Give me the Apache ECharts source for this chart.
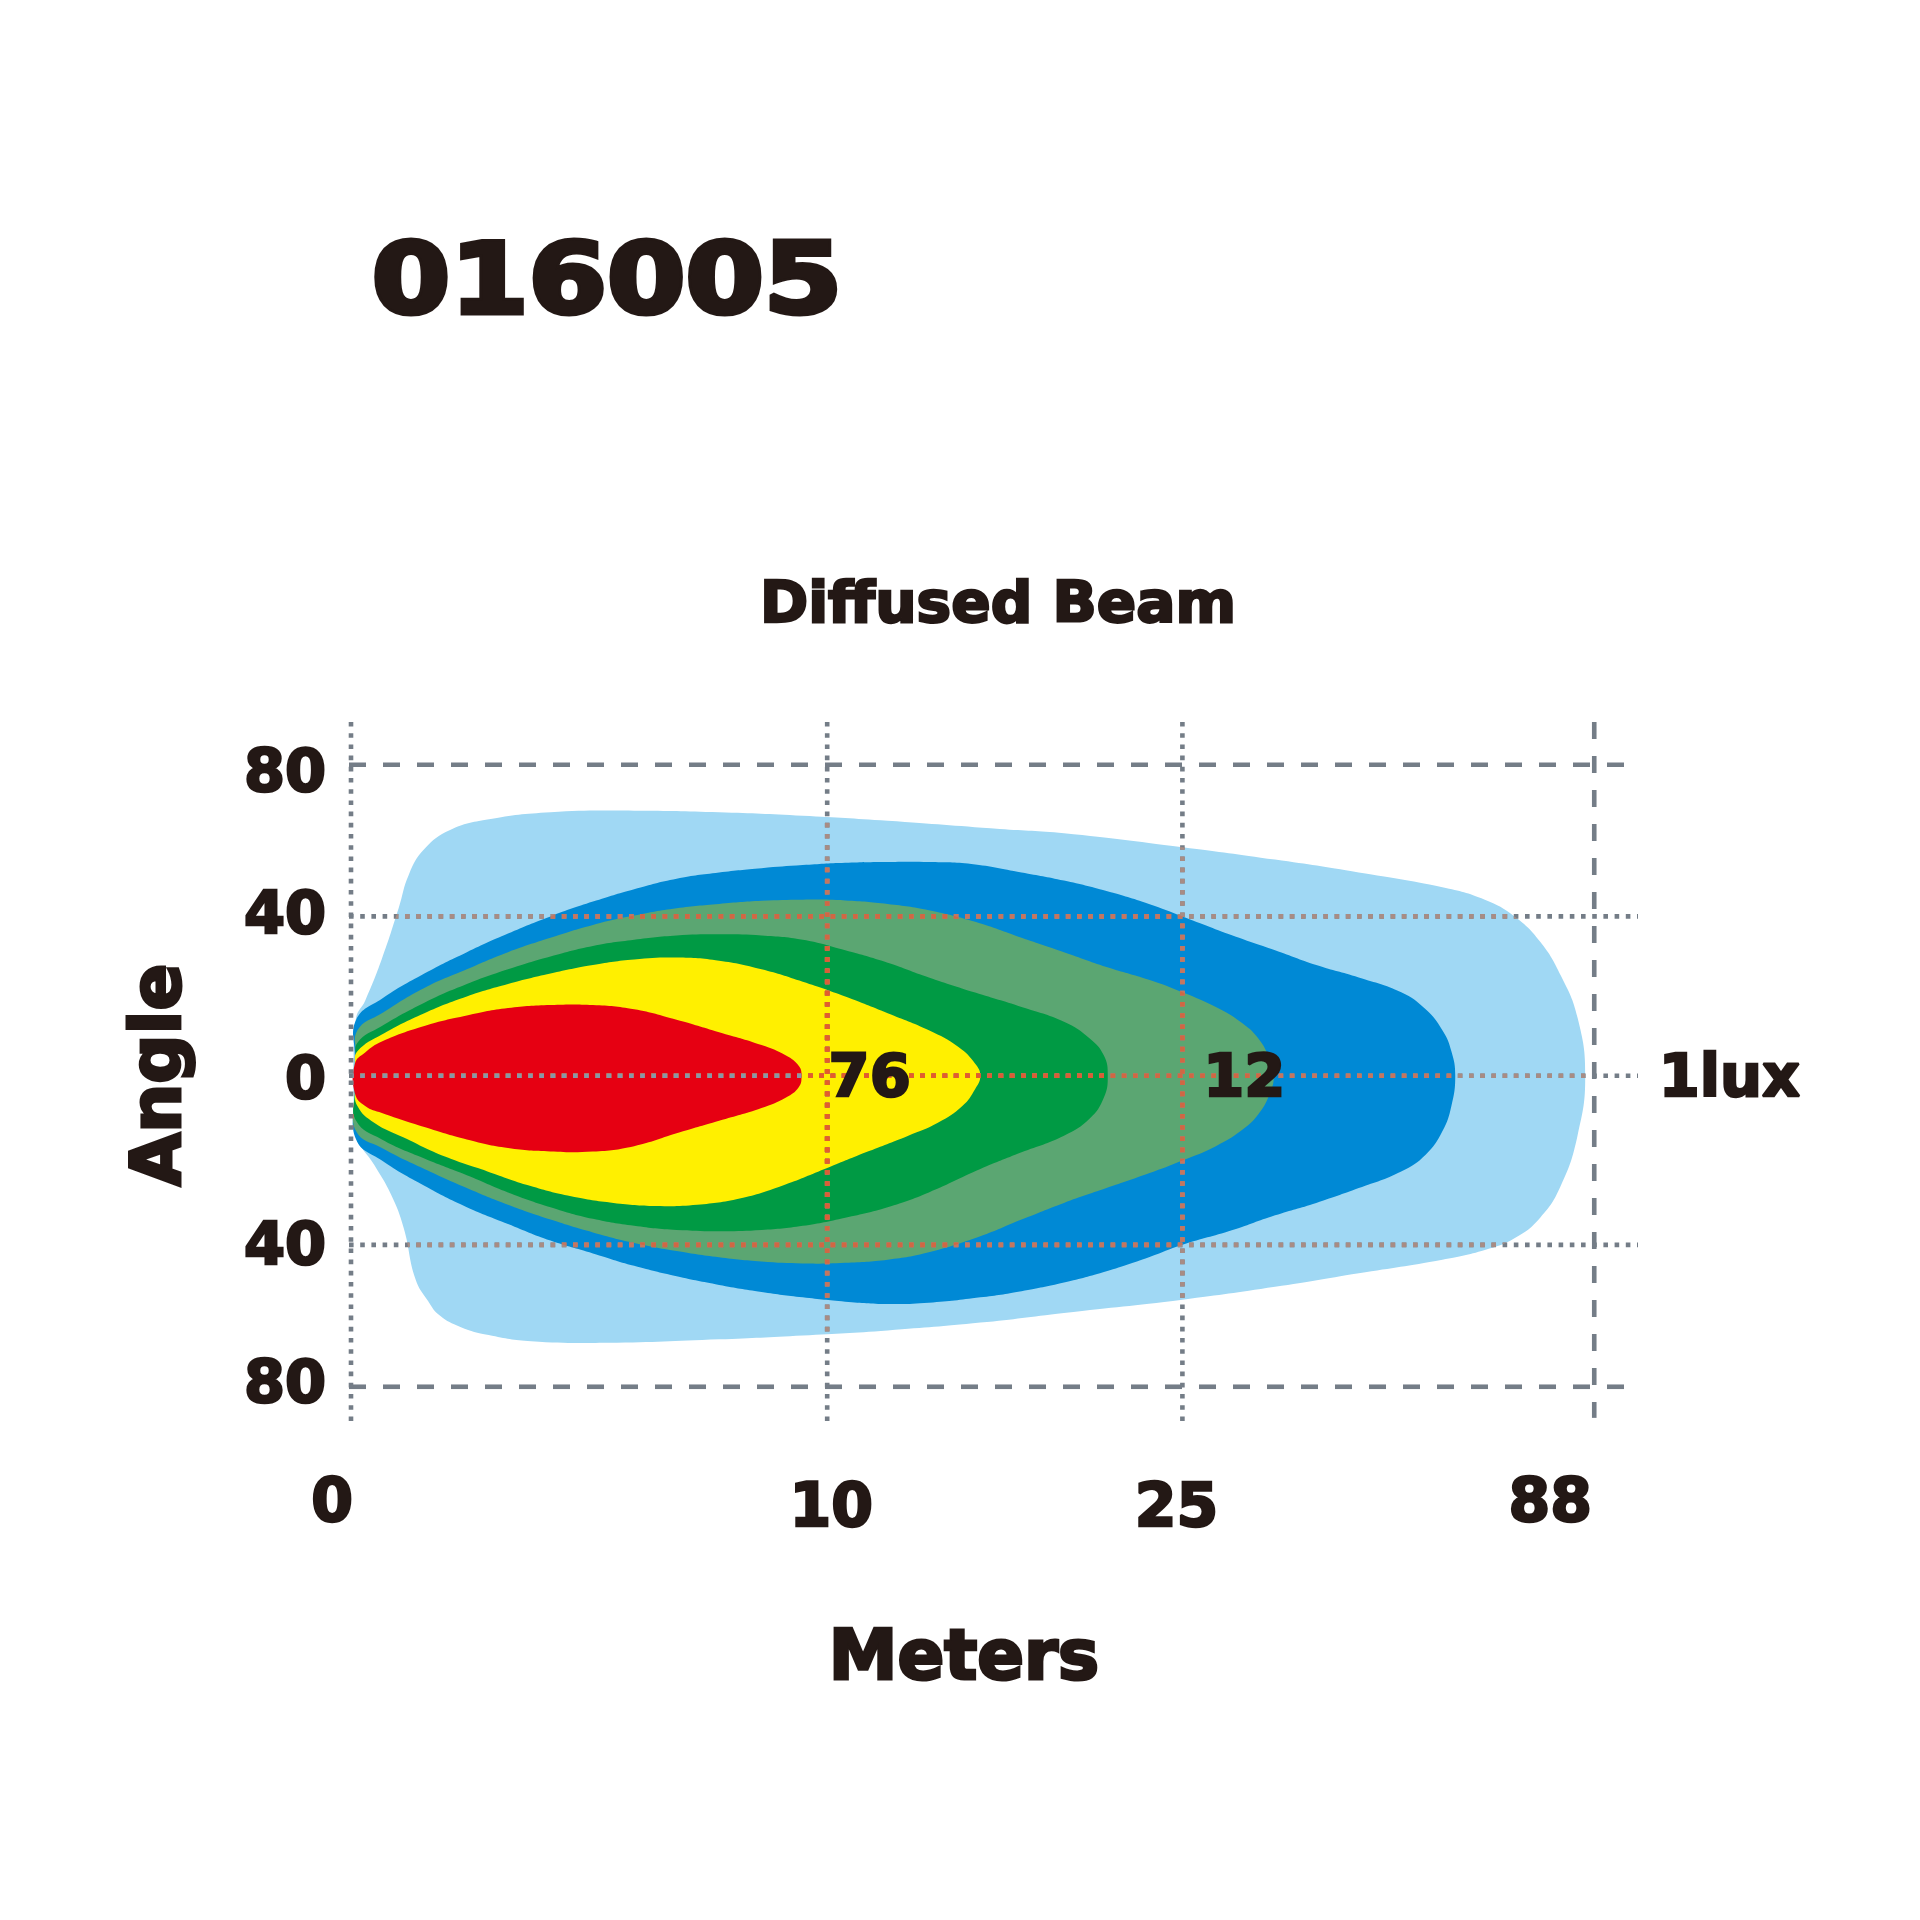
<!DOCTYPE html>
<html>
<head>
<meta charset="utf-8">
<script src="https://cdn.jsdelivr.net/npm/echarts@6/dist/echarts.min.js"></script>
<style>html,body{margin:0;padding:0;background:#fff}#chart{width:1920px;height:1920px}</style>
</head>
<body>
<div id="chart"></div>
<script>
// ---- tick labels and positions (x axis is a position scale, labels are meters) ----
const xTickLabels = ['0', '10', '25', '88'];
const xTickPos = [0, 37.0, 64.6, 96.6];
const yTickLabels = ['80', '40', '0', '40', '80'];
const yTickPos = [80, 41, 0, -43.5, -80];
const zoneLabels = ['76', '12', '1lux'];
const zoneLabelPos = [40.3, 69.4, 107.1];

// ---- isolux zones: outline points [position, angle] ----
const lightBlueZone = [[0.2,5],[0.4,15.0],[1.1,19.3],[2.4,30.1],[3.7,43.1],[4.5,51.8],[5.7,58.3],[7.7,63.2],[10.6,65.9],[15.5,67.8],[22.0,68.2],[28.6,67.8],[35.1,66.9],[41.7,65.6],[50.4,63.5],[55.4,62.4],[64.6,58.8],[71.8,55.6],[78.3,52.3],[84.8,48.5],[88.1,45.3],[90.4,41.0],[92.4,34.5],[94.0,25.8],[95.3,15.0],[95.9,0],[95.3,-15.4],[94.0,-28.3],[92.4,-36.5],[90.4,-41.8],[88.1,-44.8],[84.8,-47.3],[78.3,-50.8],[71.8,-54.3],[64.6,-57.6],[55.4,-61.0],[48.9,-63.5],[41.7,-65.5],[35.1,-66.8],[28.6,-67.8],[20.0,-68.7],[14.0,-68.3],[10.7,-66.7],[8.5,-64.6],[6.9,-61.7],[6.0,-58.0],[5.0,-52.2],[4.1,-39.2],[3.1,-30.5],[1.8,-22.9],[0.4,-15.4],[0.2,-5]];
const darkBlueZone = [[0.3,5],[0.4,14.4],[2.4,19.8],[5.7,26.3],[9.0,31.8],[12.2,36.6],[15.5,41.0],[18.8,44.8],[22.0,48.0],[25.3,50.7],[28.6,52.3],[31.9,53.4],[35.1,54.2],[38.4,54.8],[41.7,55.0],[44.9,55.0],[48.2,54.5],[52.1,52.3],[55.4,50.2],[58.7,47.5],[62.0,44.2],[64.6,41.0],[68.5,36.1],[71.8,32.3],[75.0,28.5],[78.3,25.3],[81.6,21.5],[83.5,17.1],[84.8,11.7],[85.5,6.3],[85.8,0],[85.5,-7.8],[84.8,-14.3],[83.5,-20.3],[81.6,-24.6],[78.3,-28.9],[75.0,-32.7],[71.8,-35.9],[68.5,-39.7],[64.6,-43.5],[62.0,-46.7],[58.7,-50.3],[55.4,-53.2],[52.1,-55.4],[48.9,-57.0],[44.9,-58.4],[41.7,-58.7],[38.4,-58.1],[35.1,-57.0],[31.9,-55.6],[28.6,-53.8],[25.3,-51.6],[22.0,-48.9],[18.8,-45.7],[15.5,-42.4],[12.2,-38.1],[9.0,-33.8],[5.7,-28.3],[2.4,-21.8],[0.4,-16.4],[0.3,-5]];
const mediumGreenZone = [[0.4,5],[0.5,11.7],[2.4,16.1],[5.7,22.6],[9.0,27.4],[12.2,31.8],[15.5,35.5],[18.8,38.8],[22.0,41.2],[25.3,43.1],[28.6,44.2],[31.9,45.0],[35.1,45.3],[38.4,45.1],[41.7,44.2],[44.9,42.6],[48.5,39.6],[52.1,35.5],[55.4,31.8],[58.7,28.0],[62.0,24.7],[64.6,21.5],[67.2,17.7],[69.1,13.9],[70.5,9.6],[71.4,4.1],[71.7,0],[71.4,-4.5],[70.5,-9.9],[69.1,-14.3],[67.2,-18.1],[64.6,-21.8],[62.0,-25.1],[58.7,-28.9],[55.4,-32.7],[52.1,-37.0],[48.9,-41.3],[44.9,-45.4],[41.7,-47.3],[38.4,-48.1],[35.1,-48.3],[31.9,-47.8],[28.6,-46.7],[25.3,-45.1],[22.0,-43.0],[18.8,-40.3],[15.5,-37.0],[12.2,-33.2],[9.0,-28.9],[5.7,-24.0],[2.4,-18.6],[0.4,-14.3],[0.3,-5]];
const darkGreenZone = [[0.4,4],[0.5,8.5],[2.4,12.8],[5.7,18.8],[9.0,23.6],[12.2,27.4],[15.5,30.7],[18.8,33.4],[22.0,35.0],[25.3,36.1],[28.6,36.4],[31.9,36.1],[35.1,35.0],[38.4,32.3],[41.7,29.1],[44.9,25.3],[48.5,21.4],[52.1,17.7],[55.4,13.9],[57.4,9.6],[58.5,5.2],[58.8,0],[58.5,-5.6],[57.4,-11.0],[55.4,-15.4],[52.1,-19.7],[48.9,-24.0],[44.9,-30.0],[41.7,-33.8],[38.4,-36.5],[35.1,-38.6],[31.9,-39.7],[28.6,-40.0],[25.3,-39.7],[22.0,-38.6],[18.8,-36.8],[15.5,-33.8],[12.2,-30.0],[9.0,-25.6],[5.7,-21.3],[2.4,-16.4],[0.4,-11.6],[0.3,-4]];
const yellowZone = [[0.3,3],[0.5,6.3],[2.4,10.6],[5.7,16.1],[9.0,20.4],[12.2,23.6],[15.5,26.3],[18.8,28.5],[22.0,29.9],[25.3,30.4],[28.6,29.6],[31.9,27.4],[35.1,24.2],[38.4,20.4],[41.7,16.1],[44.9,11.7],[47.2,7.4],[48.5,3.1],[48.9,0],[48.5,-3.4],[47.5,-7.8],[45.6,-12.1],[43.3,-15.4],[40.0,-19.7],[36.8,-24.0],[33.5,-28.3],[30.2,-31.6],[26.9,-33.2],[23.7,-33.5],[20.4,-32.7],[17.1,-31.0],[13.9,-28.3],[10.6,-24.6],[7.3,-20.8],[4.1,-15.9],[1.8,-12.1],[0.5,-7.8],[0.3,-3]];
const redZone = [[0.3,3.1],[1.1,6.0],[2.4,8.8],[5.7,12.8],[9.0,15.5],[12.2,17.4],[15.5,18.2],[18.8,18.2],[22.0,17.1],[25.3,14.4],[28.6,11.2],[31.9,7.9],[33.8,5.2],[34.8,2.5],[35.0,0],[34.8,-2.9],[33.8,-5.6],[31.9,-8.3],[28.6,-11.6],[25.3,-14.8],[22.0,-18.1],[18.8,-19.5],[15.5,-19.5],[12.2,-18.6],[9.0,-16.4],[5.7,-13.2],[2.4,-9.6],[1.1,-7.8],[0.3,-4.5]];

// ---- styling ----
const zones = [lightBlueZone, darkBlueZone, mediumGreenZone, darkGreenZone, yellowZone, redZone];
const zoneColors = ['#a0d8f4', '#0089d5', '#5ba672', '#009a44', '#fff000', '#e60012'];
const zoneDotColors = ['#a88c84', '#c47660', '#d06843', '#da5e36', '#e35d2c', '#8896a8'];
const gridGray = '#747d87';
const ink = '#231815';
const FONT = '"DejaVu Sans", "Liberation Sans", sans-serif';
const xStyles = ['dotted', 'dotted', 'dotted', 'dashed'];
const yStyles = ['dashed', 'dotted', 'dotted', 'dotted', 'dashed'];
const X_MIN = 0, X_MAX = 100, Y_MIN = -90, Y_MAX = 91;
const SMOOTH = 0.45;
const LW = 4.6;

function dash(t) { return t === 'dashed' ? [17, 17] : [4.6, 6.6]; }

function gridLines(api, color) {
  const els = [];
  yTickPos.forEach((v, i) => {
    const a = api.coord([X_MIN, v]), b = api.coord([X_MAX, v]);
    els.push({ type: 'line', shape: { x1: a[0] - 2, y1: a[1], x2: b[0], y2: b[1] },
      style: { stroke: color, lineWidth: LW, lineDash: dash(yStyles[i]), lineCap: 'butt' } });
  });
  xTickPos.forEach((v, i) => {
    const a = api.coord([v, Y_MAX]), b = api.coord([v, i === 3 ? Y_MIN + 2 : Y_MIN]);
    els.push({ type: 'line', shape: { x1: a[0], y1: a[1], x2: b[0], y2: b[1] },
      style: { stroke: color, lineWidth: LW, lineDash: dash(xStyles[i]), lineCap: 'butt' } });
  });
  return els;
}

function zonePoints(api, zone) { return zone.map(p => api.coord(p)); }

const series = [];
zones.forEach((zone, zi) => {
  series.push({
    type: 'custom', name: 'zone' + zi, z: 2 + zi, silent: true,
    data: zone,
    renderItem: function (params, api) {
      if (params.dataIndex !== 0) return null;
      return { type: 'polygon', shape: { points: zonePoints(api, zone), smooth: SMOOTH },
        style: { fill: zoneColors[zi], stroke: null } };
    }
  });
});
series.push({
  type: 'custom', name: 'grid', z: 20, silent: true, data: [[0, 0]],
  renderItem: function (params, api) {
    return { type: 'group', children: gridLines(api, gridGray) };
  }
});
zones.forEach((zone, zi) => {
  series.push({
    type: 'custom', name: 'gridInZone' + zi, z: 21 + zi, silent: true, data: [[0, 0]],
    renderItem: function (params, api) {
      return { type: 'group',
        clipPath: { type: 'polygon', shape: { points: zonePoints(api, zone), smooth: SMOOTH } },
        children: gridLines(api, zoneDotColors[zi]) };
    }
  });
});
const yLabelNudge = [11, 1, 7, 4, 0];
const xLabelNudge = [[-19, 80], [4, 85], [-6, 85], [-44, 80]];
function txt(x, y, text, size, align, strokeW) {
  return { type: 'text', x: x, y: y,
    style: { text: text, font: 'bold ' + size + 'px ' + FONT, fill: ink, stroke: ink, lineWidth: strokeW,
      align: align, verticalAlign: 'middle' } };
}
series.push({
  type: 'custom', name: 'labels', z: 40, silent: true, data: [[0, 0]],
  renderItem: function (params, api) {
    const els = [];
    yTickPos.forEach((v, i) => {
      const p = api.coord([X_MIN, v]);
      els.push(txt(p[0] - 25, p[1] + yLabelNudge[i], yTickLabels[i], 59, 'right', 2.5));
    });
    xTickPos.forEach((v, i) => {
      const p = api.coord([v, Y_MIN]);
      els.push(txt(p[0] + xLabelNudge[i][0], p[1] + xLabelNudge[i][1], xTickLabels[i], 60, 'center', 2.5));
    });
    zoneLabelPos.forEach((v, i) => {
      const p = api.coord([v, 0]);
      els.push(txt(p[0], p[1] + 5, zoneLabels[i], 59, 'center', 2.5));
    });
    return { type: 'group', children: els };
  }
});

function gtext(x, y, text, size, strokeW, extra) {
  return Object.assign({ type: 'text', x: x, y: y, z: 50,
    style: { text: text, font: 'bold ' + size + 'px ' + FONT, fill: ink, stroke: ink, lineWidth: strokeW,
      align: 'center', verticalAlign: 'middle', textAlign: 'center', textVerticalAlign: 'middle' } }, extra || {});
}

const chart = echarts.init(document.getElementById('chart'), null, { renderer: 'canvas' });
chart.setOption({
  animation: false,
  backgroundColor: '#ffffff',
  grid: { left: 351, top: 722, width: 1287, height: (Y_MAX - Y_MIN) * 3.8875 },
  xAxis: { type: 'value', min: X_MIN, max: X_MAX, show: false },
  yAxis: { type: 'value', min: Y_MIN, max: Y_MAX, show: false },
  graphic: [
    gtext(607, 288, '016005', 98, 5, { scaleX: 1.15 }),
    gtext(998, 607, 'Diffused Beam', 57, 2.5, { scaleX: 1.02 }),
    gtext(162, 1075, 'Angle', 69, 3, { rotation: Math.PI / 2 }),
    gtext(964, 1661, 'Meters', 69, 3)
  ],
  series: series
});
</script>
</body>
</html>
